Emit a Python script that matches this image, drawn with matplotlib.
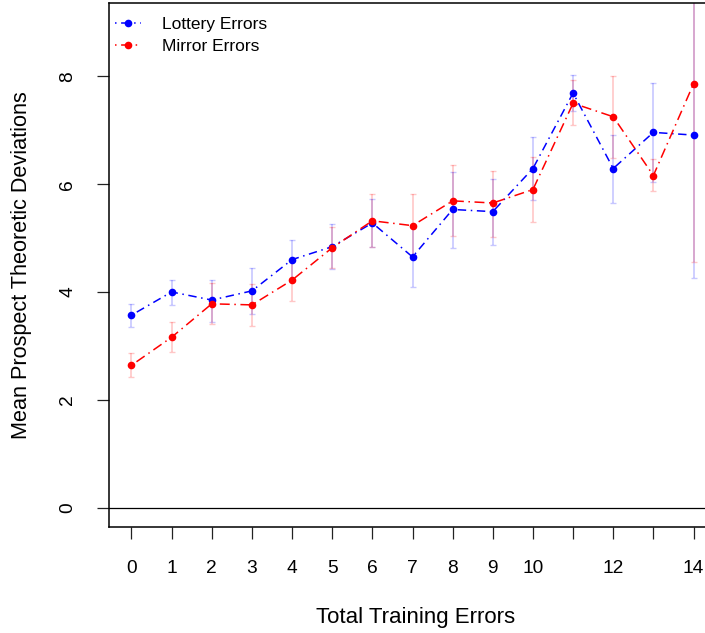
import matplotlib
matplotlib.use("Agg")
import matplotlib.pyplot as plt
import numpy as np

plt.rcParams["font.family"] = ["Liberation Sans", "DejaVu Sans"]

# ── data ──
errors = [0, 1, 2, 3, 4, 5, 6, 7, 8, 9, 10, 11, 12, 13, 14]
xtick_labels = ["0", "1", "2", "3", "4", "5", "6", "7", "8", "9", "10", "", "12", "", "14"]

lottery_mean = [3.57, 4.00, 3.85, 4.02, 4.60, 4.84, 5.28, 4.65, 5.53, 5.49, 6.29, 7.69, 6.29, 6.96, 6.91]
lottery_lo = [3.35, 3.76, 3.45, 3.60, 4.22, 4.43, 4.84, 4.09, 4.82, 4.87, 5.71, 7.35, 5.65, 6.04, 4.26]
lottery_hi = [3.78, 4.22, 4.22, 4.45, 4.97, 5.26, 5.73, 5.21, 6.23, 6.10, 6.87, 8.03, 6.92, 7.88, 9.56]

mirror_mean = [2.64, 3.16, 3.78, 3.76, 4.22, 4.82, 5.32, 5.23, 5.69, 5.65, 5.90, 7.50, 7.25, 6.16, 7.86]
mirror_lo = [2.42, 2.88, 3.40, 3.37, 3.83, 4.45, 4.84, 4.64, 5.03, 5.02, 5.29, 7.09, 6.49, 5.88, 4.55]
mirror_hi = [2.86, 3.44, 4.16, 4.15, 4.60, 5.20, 5.82, 5.82, 6.35, 6.25, 6.51, 7.93, 8.01, 6.46, 11.2]

W, H = 705, 633
fig = plt.figure(figsize=(W / 100, H / 100), dpi=100)
fig.patch.set_facecolor("white")

# plot box runs past the right edge of the picture, like the cropped original
left, right, top, bottom = 109, 716, 3, 527
ax = fig.add_axes([left / W, 1 - bottom / H, (right - left) / W, (bottom - top) / H])

x = np.array(errors)


def draw_series(mean, lo, hi, color, dashes, label):
    mean = np.array(mean)
    yerr = [mean - np.array(lo), np.array(hi) - mean]
    ax.errorbar(x, mean, yerr=yerr, fmt="none", ecolor=color, alpha=0.22,
                elinewidth=1.2, capsize=2.2, capthick=1.0, zorder=2)
    ax.plot(x, mean, color=color, lw=1.1, linestyle=(0, dashes),
            marker="o", markersize=5.5, markeredgewidth=0, zorder=3, label=label)


draw_series(lottery_mean, lottery_lo, lottery_hi, "#0000ff", (1, 3, 5.5, 3), "Lottery Errors")
draw_series(mirror_mean, mirror_lo, mirror_hi, "#ff0000", (1, 3, 6.5, 3), "Mirror Errors")

ax.axhline(0, color="black", lw=0.9, zorder=1)

ax.set_xlim(-0.56, 14.56)
ax.set_ylim(-0.36, 9.36)

ax.set_xticks(errors)
ax.set_xticklabels(xtick_labels)
ax.set_yticks([0, 2, 4, 6, 8])
ax.set_yticklabels(["0", "2", "4", "6", "8"], rotation=90, va="center")

ax.tick_params(axis="both", direction="out", length=8.6, width=0.9,
               labelsize=13.8, color="#222222", labelcolor="black")
ax.tick_params(axis="x", pad=15)
ax.tick_params(axis="y", pad=15)

for spine in ax.spines.values():
    spine.set_linewidth(1.1)
    spine.set_color("black")

fig.text(416 / W, 1 - 617 / H, "Total Training Errors", ha="center", va="center", fontsize=16.0)
fig.text(22 / W, 1 - 265 / H, "Mean Prospect Theoretic Deviations", ha="center", va="center",
         rotation=90, fontsize=15.6)

ax.legend(loc="upper left", bbox_to_anchor=(0.0, 1 - 8 / 524), frameon=False, fontsize=12.5,
          handlelength=1.5, handletextpad=1.2, labelspacing=0.36, borderaxespad=0.0,
          borderpad=0.35)

fig.savefig("out.png", dpi=100, facecolor="white")
